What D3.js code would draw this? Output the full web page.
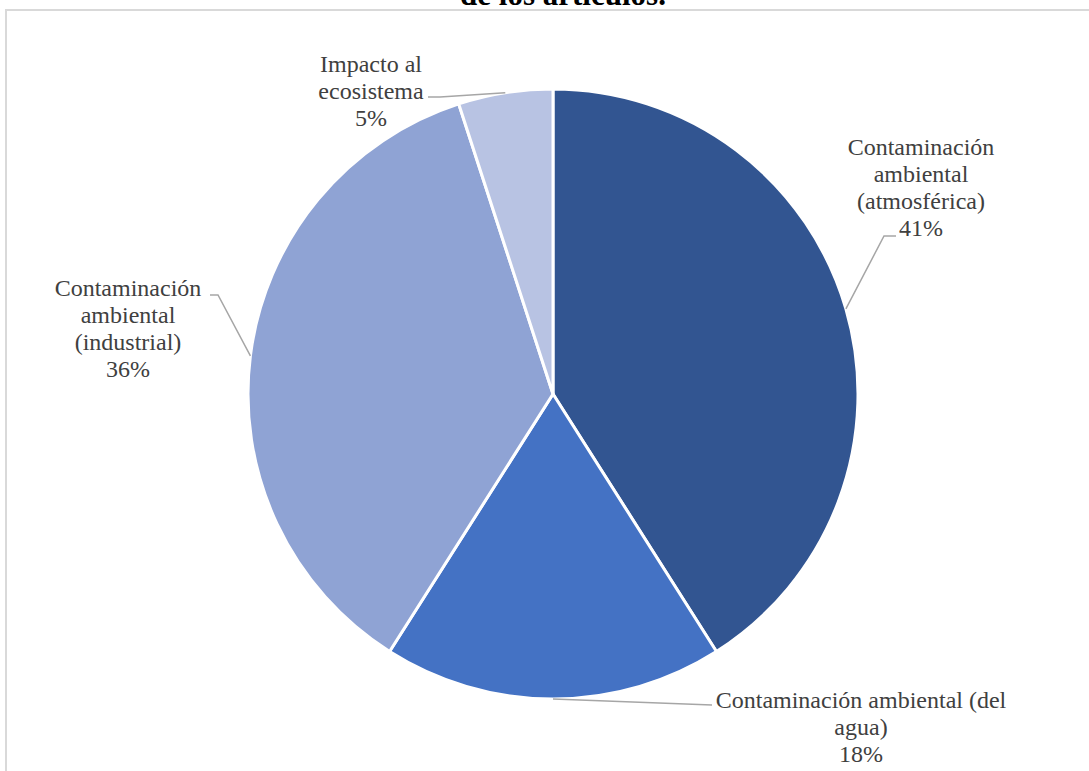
<!DOCTYPE html>
<html>
<head>
<meta charset="utf-8">
<script src="https://cdn.jsdelivr.net/npm/d3@7"></script>
<style>
  html, body { margin: 0; padding: 0; background: #fff; }
  svg { display: block; }
</style>
</head>
<body>
<svg id="chart" width="1089" height="771"></svg>
<script>
// Topics covered by the reviewed articles and their share (%)
const categories = [
  "Contaminación ambiental (atmosférica)",
  "Contaminación ambiental (del agua)",
  "Contaminación ambiental (industrial)",
  "Impacto al ecosistema"
];
const values = [41, 18, 36, 5];
const labelLines = [
  ["Contaminación", "ambiental", "(atmosférica)"],
  ["Contaminación ambiental (del", "agua)"],
  ["Contaminación", "ambiental", "(industrial)"],
  ["Impacto al", "ecosistema"]
];
const colors = ["#325591", "#4472C4", "#8FA3D4", "#B8C3E3"];

// Label placement: text centre, first baseline, leader elbow and leader end
const labelLayout = [
  { cx: 921, y: 155, elbow: [884, 236], end: [896, 236] },
  { cx: 861, y: 708, elbow: [712, 705], end: [712, 705] },
  { cx: 128, y: 296, elbow: [218, 295], end: [210, 295] },
  { cx: 371, y: 72,  elbow: [440, 97],  end: [428, 97] }
];

const W = 1089, H = 771;
const cx = 553, cy = 394, R = 305;
const lineH = 27;

const svg = d3.select("#chart");

// Chart area frame
svg.append("rect")
  .attr("x", 6).attr("y", 10)
  .attr("width", W + 20).attr("height", H + 20)
  .attr("fill", "none")
  .attr("stroke", "#d9d9d9")
  .attr("stroke-width", 2);

// Title (second line)
svg.append("text")
  .attr("x", 563).attr("y", 5)
  .attr("text-anchor", "middle")
  .attr("font-family", "'Liberation Serif', 'Times New Roman', serif")
  .attr("font-weight", "bold")
  .attr("font-size", 31)
  .attr("fill", "#000")
  .text("de los artículos.");

const pie = d3.pie().sort(null).value(d => d)(values);
const arc = d3.arc().innerRadius(0).outerRadius(R);

const g = svg.append("g").attr("transform", `translate(${cx},${cy})`);

g.selectAll("path.slice")
  .data(pie)
  .join("path")
  .attr("class", "slice")
  .attr("d", arc)
  .attr("fill", (d, i) => colors[i])
  .attr("stroke", "#fff")
  .attr("stroke-width", 3)
  .attr("stroke-linejoin", "round");

// Leader lines from the slice edge at its mid-angle
pie.forEach((d, i) => {
  const a = (d.startAngle + d.endAngle) / 2;
  const sx = cx + R * Math.sin(a);
  const sy = cy - R * Math.cos(a);
  const L = labelLayout[i];
  svg.append("polyline")
    .attr("points", [[sx, sy], L.elbow, L.end].map(p => p.join(",")).join(" "))
    .attr("fill", "none")
    .attr("stroke", "#a6a6a6")
    .attr("stroke-width", 1.5);
});

// Category and percentage labels
pie.forEach((d, i) => {
  const L = labelLayout[i];
  const lines = labelLines[i].concat([`${values[i]}%`]);
  const t = svg.append("text")
    .attr("text-anchor", "middle")
    .attr("font-family", "'Liberation Serif', 'Times New Roman', serif")
    .attr("font-size", 24)
    .attr("fill", "#404040");
  lines.forEach((s, k) => {
    t.append("tspan")
      .attr("x", L.cx)
      .attr("y", L.y + k * lineH)
      .text(s);
  });
});
</script>
</body>
</html>
